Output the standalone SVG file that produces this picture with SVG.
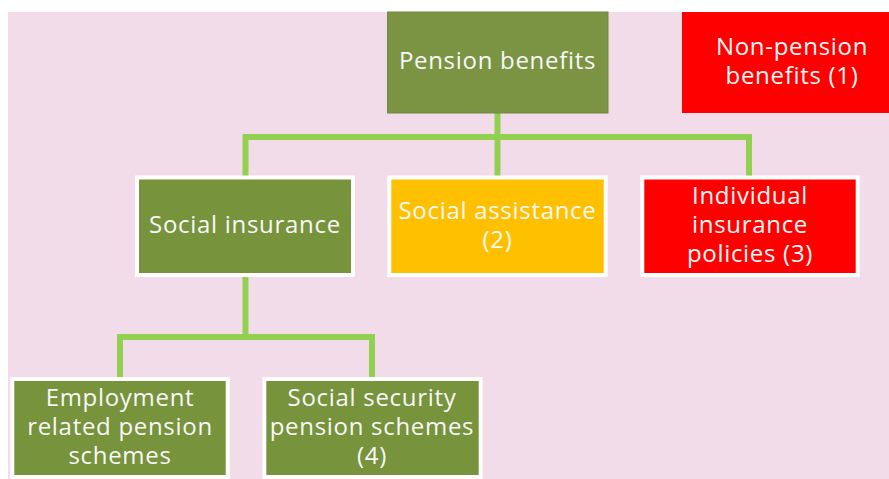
<svg xmlns="http://www.w3.org/2000/svg" width="889" height="479" viewBox="0 0 889 479">
<style>
.t{font-family:"Open Sans","Noto Sans","Liberation Sans",sans-serif;font-size:24px;fill:#F8F8F8;text-anchor:middle;letter-spacing:0.7px}
.box{stroke:#FFFFFF;stroke-width:4}
.olive{fill:#77933C}
.conn{fill:none;stroke:#92D050;stroke-width:6;stroke-linejoin:miter;stroke-linecap:butt}
</style>
<rect x="0" y="0" width="889" height="479" fill="#FFFFFF"/>
<rect x="8" y="12" width="881" height="467" fill="#F2DCE9"/>
<g id="connectors">
<path class="conn" d="M497.5 113 V176"/>
<path class="conn" d="M245.5 176 V137 H749 V176"/>
<path class="conn" d="M245.5 277 V337"/>
<path class="conn" d="M120 377 V337 H372 V377"/>
</g>
<g id="pension-benefits">
<rect x="387.5" y="12" width="220.5" height="101" fill="#7A9443" stroke="#71893D" stroke-width="1"/>
<text class="t" x="497.5" y="69">Pension benefits</text>
</g>
<g id="non-pension-benefits">
<rect x="682" y="12" width="207" height="101" fill="#FF0000"/>
<text class="t" x="792" y="55">Non-pension</text>
<text class="t" x="792" y="84">benefits (1)</text>
</g>
<g id="social-insurance">
<rect class="box olive" x="137" y="177.5" width="216" height="97.5"/>
<text class="t" x="245" y="233">Social insurance</text>
</g>
<g id="social-assistance">
<rect class="box" x="389.3" y="177.5" width="216.4" height="97.5" fill="#FFC000"/>
<text class="t" x="497.5" y="219">Social assistance</text>
<text class="t" x="497.5" y="248">(2)</text>
</g>
<g id="individual-insurance">
<rect class="box" x="642.3" y="177.5" width="215.4" height="97.5" fill="#FF0000"/>
<text class="t" x="750" y="204">Individual</text>
<text class="t" x="750" y="233">insurance</text>
<text class="t" x="750" y="262">policies (3)</text>
</g>
<g id="employment-related">
<rect class="box olive" x="12.3" y="379" width="215.4" height="98"/>
<text class="t" x="120" y="406">Employment</text>
<text class="t" x="120" y="435">related pension</text>
<text class="t" x="120" y="464">schemes</text>
</g>
<g id="social-security">
<rect class="box olive" x="264.3" y="379" width="216.4" height="98"/>
<text class="t" x="372" y="406">Social security</text>
<text class="t" x="372" y="435">pension schemes</text>
<text class="t" x="372" y="464">(4)</text>
</g>
</svg>
